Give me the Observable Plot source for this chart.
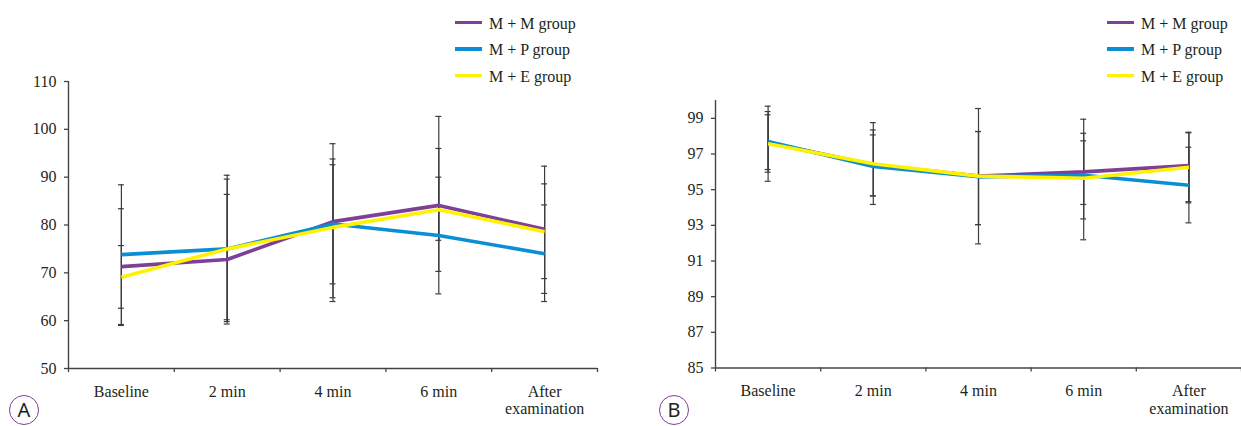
<!DOCTYPE html>
<html>
<head>
<meta charset="utf-8">
<script src="https://cdn.jsdelivr.net/npm/d3@7"></script>
<script src="https://cdn.jsdelivr.net/npm/@observablehq/plot@0.6"></script>
<style>
  html, body { margin: 0; padding: 0; background: #fff; }
  #wrap { position: relative; width: 1241px; height: 426px; overflow: hidden; background: #fff;
          font-family: "Liberation Serif", "DejaVu Serif", serif; color: #231f20; }
  .plot { position: absolute; top: 0; }
  .leg-line { position: absolute; height: 3.5px; width: 27px; }
  .leg-text { position: absolute; font-size: 16px; line-height: 16px; white-space: nowrap;
              font-family: "Liberation Serif", "DejaVu Serif", serif; }
  .badge { position: absolute; width: 30px; height: 30px; box-sizing: border-box;
           border: 1.3px solid #7d3f98; border-radius: 50%;
           font-family: "Noto Sans", "DejaVu Sans", sans-serif; font-size: 20px; line-height: 20px;
           display: flex; align-items: center; justify-content: center; color: #231f20; }
</style>
</head>
<body>
<div id="wrap"></div>
<script>
// ---------- data ----------
const categories = ["Baseline", "2 min", "4 min", "6 min", "After\nexamination"];
const groups = ["M + M group", "M + P group", "M + E group"];
const groupColors = ["#7d3f98", "#0a8fd5", "#fff200"];

// Panel A
const yTicksA = [50, 60, 70, 80, 90, 100, 110];
const meanA_MM = [71.3, 72.8, 80.7, 84.1, 79.1];
const meanA_MP = [73.8, 75.0, 80.2, 77.8, 74.0];
const meanA_ME = [69.1, 75.0, 79.5, 83.2, 78.6];
const lowA_MM  = [59.2, 59.3, 64.0, 65.6, 65.7];
const highA_MM = [83.4, 86.4, 97.0, 102.7, 92.3];
const lowA_MP  = [59.0, 59.8, 67.7, 76.8, 64.0];
const highA_MP = [88.4, 89.6, 92.6, 90.0, 84.2];
const lowA_ME  = [62.6, 60.2, 64.8, 70.3, 68.8];
const highA_ME = [75.7, 90.4, 93.8, 96.0, 88.6];

// Panel B
const yTicksB = [85, 87, 89, 91, 93, 95, 97, 99];
const meanB_MM = [97.65, 96.40, 95.76, 96.00, 96.35];
const meanB_MP = [97.70, 96.30, 95.72, 95.81, 95.25];
const meanB_ME = [97.57, 96.45, 95.76, 95.64, 96.26];
const lowB_MM  = [95.98, 94.65, 93.04, 94.17, 94.33];
const highB_MM = [99.38, 98.35, 98.26, 97.74, 98.22];
const lowB_MP  = [96.13, 94.65, 93.04, 93.36, 93.14];
const highB_MP = [99.20, 98.07, 98.26, 98.16, 97.38];
const lowB_ME  = [95.47, 94.17, 91.96, 92.19, 94.26];
const highB_ME = [99.68, 98.76, 99.55, 98.95, 98.19];

// ---------- build ----------
const serif = '"Liberation Serif", "DejaVu Serif", serif';

function rowsFor(means, lows, highs) {
  const rows = [];
  groups.forEach((g, k) => {
    means[k].forEach((m, i) => rows.push({group: g, i, mean: m, low: lows[k][i], high: highs[k][i]}));
  });
  return rows;
}

function panel(rows, yTicks, yDomain, opts) {
  const capW = 0.028;
  const caps = rows.flatMap(d => [{i: d.i, v: d.low}, {i: d.i, v: d.high}]);
  const bounds = categories.map((_, i) => i - 0.5).concat([categories.length - 0.5]);
  const axisColor = "#444";
  return Plot.plot({
    width: opts.width,
    height: 426,
    marginLeft: opts.marginLeft,
    marginRight: opts.marginRight,
    marginTop: opts.marginTop,
    marginBottom: opts.marginBottom,
    style: {fontFamily: serif, fontSize: "16px", color: "#231f20", background: "transparent"},
    x: {type: "linear", domain: [-0.5, categories.length - 0.5], axis: null},
    y: {domain: yDomain, axis: null},
    color: {domain: groups, range: groupColors},
    marks: [
      Plot.axisY(yTicks, {anchor: "left", tickSize: 4, tickPadding: 8, stroke: axisColor, strokeWidth: 1.3, fill: "#231f20", fontSize: 16, fontFamily: serif, label: null}),
      Plot.axisX(bounds, {anchor: "bottom", tickSize: 4, stroke: axisColor, strokeWidth: 1.3, tickFormat: () => "", label: null}),
      Plot.ruleX([-0.5], {y1: yDomain[0], y2: yDomain[1], stroke: axisColor, strokeWidth: 1.4}),
      Plot.ruleY([yDomain[0]], {stroke: axisColor, strokeWidth: 1.4}),
      Plot.text(categories, {x: (d, i) => i, frameAnchor: "bottom", lineAnchor: "top", dy: 15.5, lineHeight: 1.1, fontSize: 16, fontFamily: serif, fill: "#231f20"}),
      Plot.ruleX(rows, {x: "i", y1: "low", y2: "high", stroke: "#3c3c3c", strokeWidth: 1.2}),
      Plot.ruleY(caps, {y: "v", x1: d => d.i - capW, x2: d => d.i + capW, stroke: "#3c3c3c", strokeWidth: 1.2}),
      Plot.line(rows, {x: "i", y: "mean", z: "group", stroke: "group", strokeWidth: 3.6, strokeLinejoin: "miter", strokeLinecap: "butt"})
    ]
  });
}

const wrap = document.getElementById("wrap");

const plotA = panel(
  rowsFor([meanA_MM, meanA_MP, meanA_ME], [lowA_MM, lowA_MP, lowA_ME], [highA_MM, highA_MP, highA_ME]),
  yTicksA, [50, 110],
  {width: 620, marginLeft: 68, marginRight: 23, marginTop: 81, marginBottom: 58}
);
plotA.classList.add("plot");
plotA.style.left = "0px";
wrap.appendChild(plotA);

const plotB = panel(
  rowsFor([meanB_MM, meanB_MP, meanB_ME], [lowB_MM, lowB_MP, lowB_ME], [highB_MM, highB_MP, highB_ME]),
  yTicksB, [85, 100],
  {width: 621, marginLeft: 95, marginRight: 0, marginTop: 100, marginBottom: 58.5}
);
plotB.classList.add("plot");
plotB.style.left = "620px";
wrap.appendChild(plotB);

// legends
function legend(x0) {
  groups.forEach((g, k) => {
    const cy = 22.7 + 26.4 * k;
    const line = document.createElement("div");
    line.className = "leg-line";
    line.style.left = x0 + "px";
    line.style.top = (cy - 1.75) + "px";
    line.style.background = groupColors[k];
    wrap.appendChild(line);
    const t = document.createElement("div");
    t.className = "leg-text";
    t.style.left = (x0 + 34) + "px";
    t.style.top = (cy - 7) + "px";
    t.textContent = g;
    wrap.appendChild(t);
  });
}
legend(455);
legend(1107);

// panel badges
function badge(letter, cx, cy) {
  const b = document.createElement("div");
  b.className = "badge";
  b.style.left = (cx - 15) + "px";
  b.style.top = (cy - 15) + "px";
  b.textContent = letter;
  wrap.appendChild(b);
}
badge("A", 24, 410);
badge("B", 674, 410);
</script>
</body>
</html>
